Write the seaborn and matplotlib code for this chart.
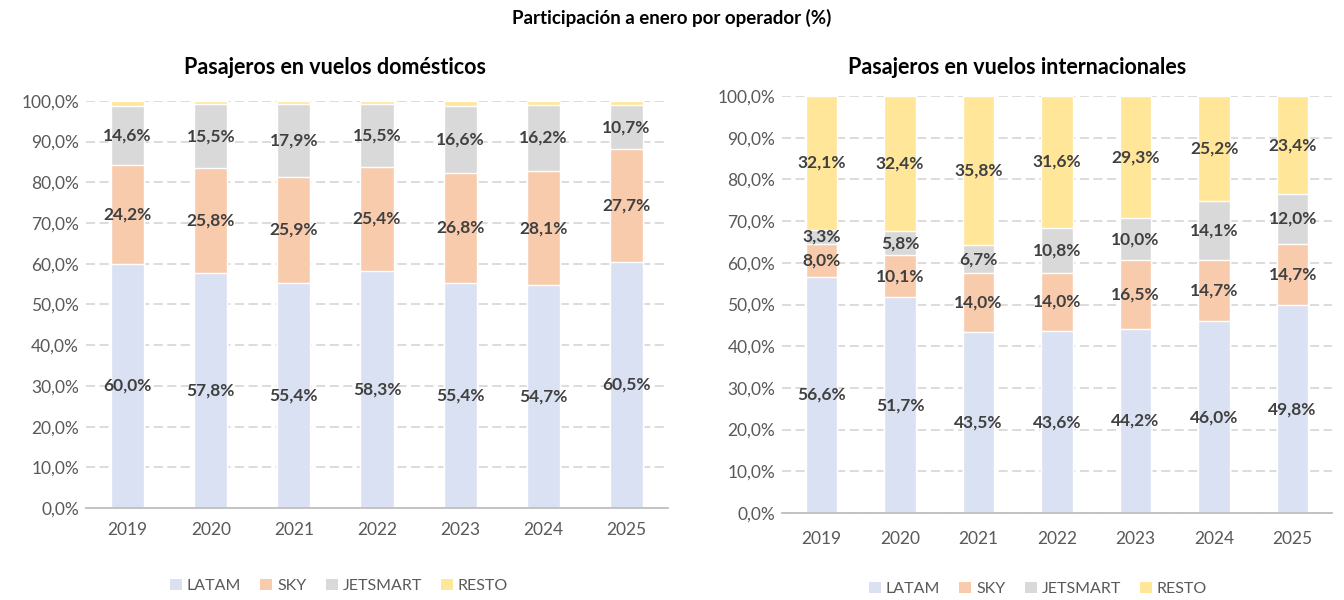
import matplotlib.pyplot as plt
import matplotlib.ticker as mticker
from matplotlib.patches import Patch
import numpy as np
import pandas as pd
import seaborn as sns

years = ["2019", "2020", "2021", "2022", "2023", "2024", "2025"]
operators = ["LATAM", "SKY", "JETSMART", "RESTO"]

# pasajeros domesticos (%)
dom_latam = [60.0, 57.8, 55.4, 58.3, 55.4, 54.7, 60.5]
dom_sky = [24.2, 25.8, 25.9, 25.4, 26.8, 28.1, 27.7]
dom_jetsmart = [14.6, 15.5, 17.9, 15.5, 16.6, 16.2, 10.7]
dom_resto = [1.2, 0.9, 0.8, 0.8, 1.2, 1.0, 1.1]

# pasajeros internacionales (%)
int_latam = [56.6, 51.7, 43.5, 43.6, 44.2, 46.0, 49.8]
int_sky = [8.0, 10.1, 14.0, 14.0, 16.5, 14.7, 14.7]
int_jetsmart = [3.3, 5.8, 6.7, 10.8, 10.0, 14.1, 12.0]
int_resto = [32.1, 32.4, 35.8, 31.6, 29.3, 25.2, 23.4]

colors = ["#D9E1F2", "#F8CBAD", "#D9D9D9", "#FFE699"]
TEXT = "#595959"
LABEL = "#404040"

sns.set_style("white")
plt.rcParams["font.family"] = ["Lato", "DejaVu Sans"]


def pct(v, _pos=None):
    return f"{v:.1f}%".replace(".", ",")


def stacked(ax, series, label_resto, xpad):
    df = pd.DataFrame(dict(zip(operators, series)), index=years)
    cum = df.cumsum(axis=1)
    # draw from the top layer down so each layer covers the one above it
    for i in reversed(range(len(operators))):
        op = operators[i]
        sns.barplot(x=years, y=cum[op].values, color=colors[i], width=0.4,
                    saturation=1, ax=ax, zorder=2)
    for i, op in enumerate(operators):
        if op == "RESTO" and not label_resto:
            continue
        mids = cum[op] - df[op] / 2
        for x, (m, v) in enumerate(zip(mids, df[op])):
            ax.text(x, m, pct(v), ha="center", va="center", fontsize=12.5,
                    fontweight="bold", color=LABEL, zorder=3)

    ax.set_ylim(0, 100)
    ax.set_xlim(-0.5, len(years) - 0.5)
    ax.set_yticks(np.arange(0, 101, 10))
    ax.yaxis.set_major_formatter(mticker.FuncFormatter(pct))
    ax.grid(axis="y", color="#D9D9D9", linestyle=(0, (5, 2.5)), linewidth=1.3, zorder=0)
    ax.set_axisbelow(True)
    for s in ["left", "right", "top"]:
        ax.spines[s].set_visible(False)
    ax.spines["bottom"].set_color("#BFBFBF")
    ax.spines["bottom"].set_linewidth(1.3)
    ax.xaxis.set_minor_locator(mticker.FixedLocator(np.arange(-0.5, len(years), 1)))
    ax.tick_params(axis="x", which="minor", length=5, width=1.2, color="#BFBFBF", direction="out")
    ax.tick_params(axis="x", which="major", length=0, pad=xpad, labelsize=12.5, labelcolor=TEXT)
    ax.tick_params(axis="y", length=0, pad=5, labelsize=12.5, labelcolor=TEXT)
    ax.set_xlabel("")
    ax.set_ylabel("")


def legend_at(fig, x, y):
    handles = [Patch(facecolor=c, edgecolor="none", label=o) for o, c in zip(operators, colors)]
    fig.legend(handles=handles, loc="center", bbox_to_anchor=(x, y), ncol=4,
               frameon=False, fontsize=11.5, labelcolor=TEXT, handlelength=0.75,
               handleheight=0.75, handletextpad=0.3, columnspacing=1.2)


fig = plt.figure(figsize=(13.44, 6), dpi=100)
ax1 = fig.add_axes([0.064, 0.153, 0.433, 0.679])
ax2 = fig.add_axes([0.582, 0.145, 0.409, 0.695])

stacked(ax1, [dom_latam, dom_sky, dom_jetsmart, dom_resto], label_resto=False, xpad=10)
stacked(ax2, [int_latam, int_sky, int_jetsmart, int_resto], label_resto=True, xpad=13)

fig.text(0.249, 1 - 68 / 600, "Pasajeros en vuelos domésticos", ha="center", va="center",
         fontsize=15.5, fontweight="bold", color="black")
fig.text(0.757, 1 - 67 / 600, "Pasajeros en vuelos internacionales", ha="center", va="center",
         fontsize=15.5, fontweight="bold", color="black")
fig.text(0.4995, 1 - 18 / 600, "Participación a enero por operador (%)", ha="center",
         va="center", fontsize=13.5, fontweight="bold", color="black")

legend_at(fig, 339 / 1344, 1 - 586 / 600)
legend_at(fig, 1038 / 1344, 1 - 589 / 600)

fig.savefig("out.png", dpi=100)
